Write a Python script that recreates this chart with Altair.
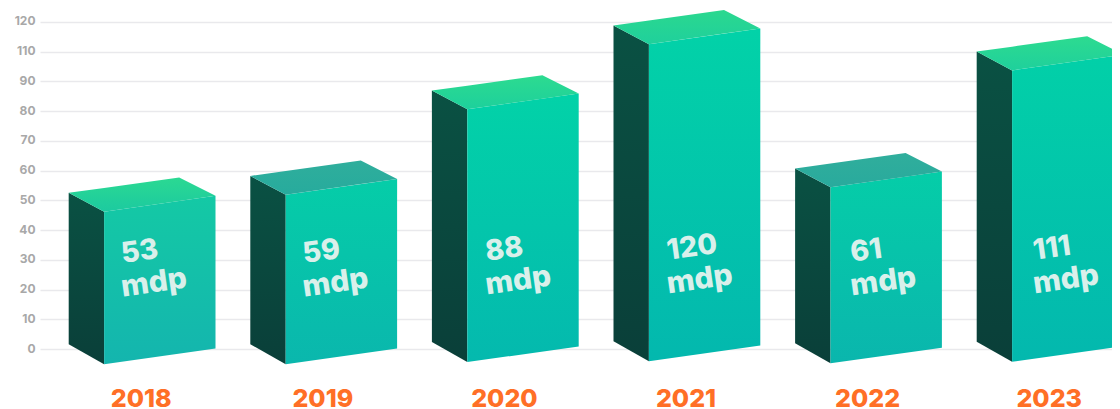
import altair as alt
import pandas as pd

YEARS = ["2018", "2019", "2020", "2021", "2022", "2023"]
LABELS = ["53", "59", "88", "120", "61", "111"]
UNIT = ["mdp"] * 6
# bar heights, read against the drawn axis rows (the axis skips the label 100)
TOP = [52.5, 58.2, 86.9, 108.8, 60.7, 100.0]
BASE = [-5.1, -5.1, -4.4, -4.1, -4.8, -4.3]
NUM_Y = [31.9, 31.9, 32.6, 33.0, 32.3, 33.0]
LABEL_DX = [52.5, 52.5, 53.5, 53.5, 55.5, 56.5]
TICKS = [0, 10, 20, 30, 40, 50, 60, 70, 80, 90, 100, 110]
TOP_COL = [("#2bd992", "#1ccaa0"), ("#2fae9c", "#27ab9d"), ("#2ddb90", "#1dd09c"),
           ("#2bd88f", "#1fd09c"), ("#30ae9c", "#29aa9d"), ("#2ddb90", "#1fd09c")]
FRONT_COL = [("#14c9a5", "#14b5ae"), ("#05cda8", "#0ab7ad"), ("#02d2a8", "#04b9ae"),
             ("#02d2a8", "#03b8ae"), ("#05cda8", "#0ab6ad"), ("#02d0a8", "#03b8ae")]
SIDE_COL = ("#0a5143", "#0a3f39")

STEP = 181.6
PX = 2.974  # pixels per axis unit


def xu(i, dx):
    return i + dx / STEP


def yu(dy):
    return -dy / PX


xs = alt.Scale(domain=[(40 - 68.7) / STEP, (1112 - 68.7) / STEP], nice=False, zero=False)
ys = alt.Scale(domain=[(349 - 409) / PX, (349 - 8) / PX], nice=False, zero=False)

y_axis = alt.Axis(
    values=TICKS, title=None, domain=False, ticks=False, grid=True,
    gridColor="#e9e9ec", gridWidth=1.4, labelColor="#a8a8a8",
    labelFont="Inter", labelFontWeight=700, labelFontSize=12,
    labelPadding=5, labelOffset=-1,
    labelExpr="datum.value > 90 ? datum.value + 10 : datum.value",
)


def grad(c0, c1):
    return alt.Gradient(gradient="linear", x1=0, y1=0, x2=0, y2=1,
                        stops=[alt.GradientStop(offset=0, color=c0),
                               alt.GradientStop(offset=1, color=c1)])


def area(rows, c0, c1):
    return alt.Chart(pd.DataFrame(rows, columns=["x", "y", "y2"])).mark_area(
        fill=grad(c0, c1), clip=True
    ).encode(
        x=alt.X("x:Q", scale=xs, axis=None),
        y=alt.Y("y:Q", scale=ys, axis=y_axis),
        y2="y2:Q",
    )


D_F, D_A, D_R = 35.4, 110.5, 146.8
A_Y, F_Y, R_Y = -15.4, 18.8, 3.0

layers = []
for i in range(6):
    t, b = TOP[i], BASE[i]
    back_b = b + yu(-20)
    layers.append(area([
        (xu(i, 0), t, back_b),
        (xu(i, D_F), t + yu(F_Y), b),
    ], *SIDE_COL))
    layers.append(area([
        (xu(i, D_F), t + yu(F_Y), b),
        (xu(i, D_R), t + yu(R_Y), b + yu(-15.6)),
    ], *FRONT_COL[i]))
    up_f = A_Y * D_F / D_A
    lo_a = F_Y + (R_Y - F_Y) * (D_A - D_F) / (D_R - D_F)
    layers.append(area([
        (xu(i, 0), t, t),
        (xu(i, D_F), t + yu(up_f), t + yu(F_Y)),
        (xu(i, D_A), t + yu(A_Y), t + yu(lo_a)),
        (xu(i, D_R), t + yu(R_Y), t + yu(R_Y)),
    ], *TOP_COL[i]))

text_df = pd.DataFrame({
    "x": [xu(i, LABEL_DX[i]) for i in range(6)],
    "num": LABELS,
    "unit": UNIT,
    "ny": NUM_Y,
    "uy": [v - 11.3 for v in NUM_Y],
})
layers.append(alt.Chart(text_df).mark_text(
    align="left", baseline="middle", angle=352, font="Inter", fontWeight=800,
    fontSize=28.5, color="#d9f0eb", clip=True
).encode(x=alt.X("x:Q", scale=xs, axis=None), y=alt.Y("ny:Q", scale=ys, axis=y_axis), text="num:N"))
layers.append(alt.Chart(text_df).mark_text(
    align="left", baseline="middle", angle=352, font="Inter", fontWeight=800,
    fontSize=30, color="#d9f0eb", clip=True
).encode(x=alt.X("x:Q", scale=xs, axis=None), y=alt.Y("uy:Q", scale=ys, axis=y_axis), text="unit:N"))

year_df = pd.DataFrame({"x": [xu(i, 72.5) for i in range(6)], "y": [yu(49.5)] * 6, "year": YEARS})
layers.append(alt.Chart(year_df).mark_text(
    align="center", baseline="middle", font="Inter", fontWeight=800,
    fontSize=25, color="#ff6f26"
).encode(x=alt.X("x:Q", scale=xs, axis=None), y=alt.Y("y:Q", scale=ys, axis=y_axis), text="year:N"))

chart = alt.layer(*layers).resolve_scale(x="shared", y="shared").properties(
    width=1072, height=401,
    padding={"left": 32, "top": 0, "right": 0, "bottom": 0},
    autosize=alt.AutoSizeParams(type="none"),
    background="white",
).configure_view(stroke=None)

chart.save("out.html", embed_options={"renderer": "svg", "actions": False})
